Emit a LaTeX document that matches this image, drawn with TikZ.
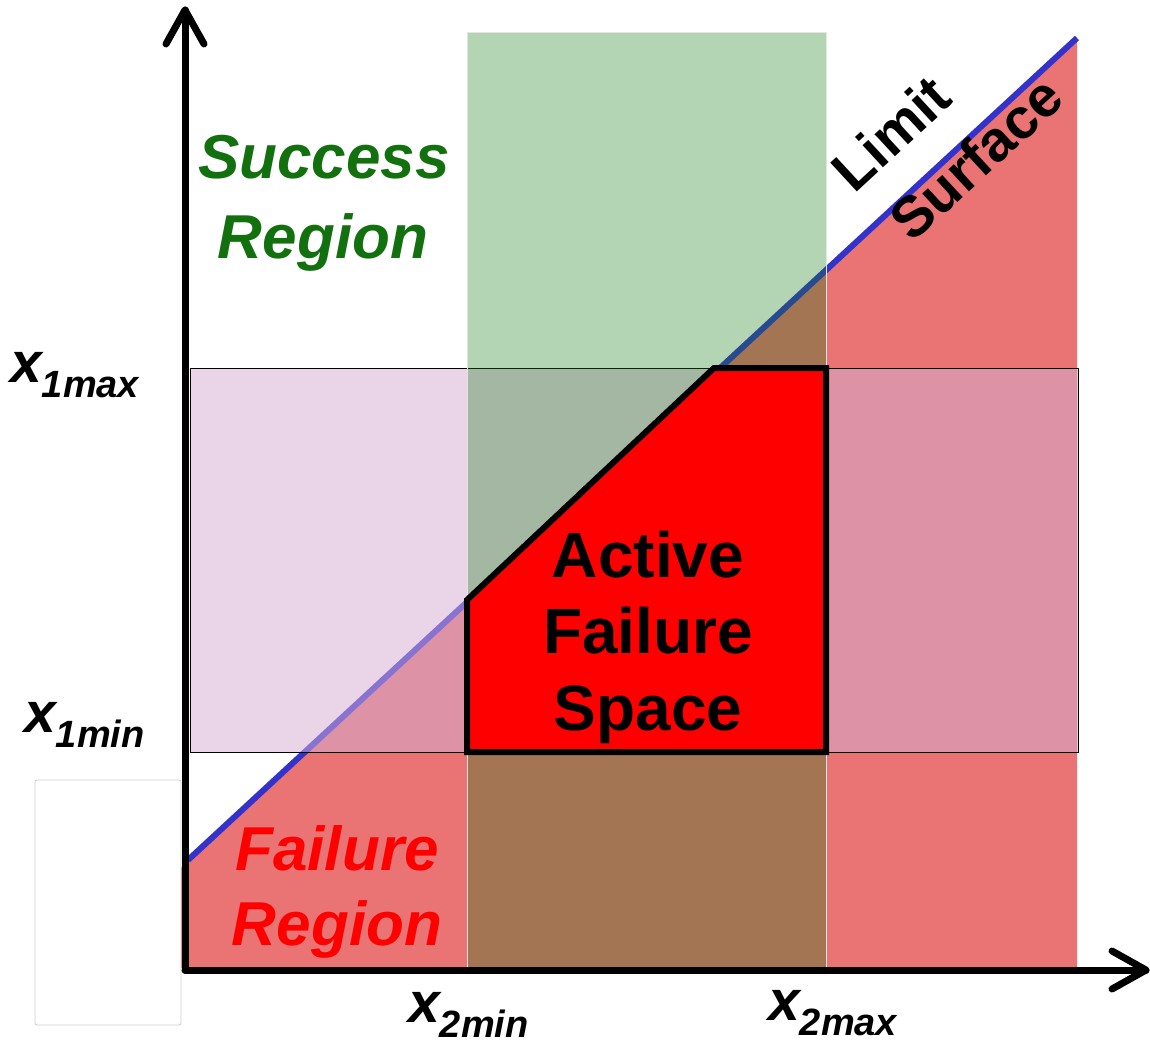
\documentclass[tikz,border=0pt]{standalone}
\usepackage{fontspec}
\setmainfont{Liberation Sans}
\definecolor{failred}{RGB}{234,115,115}
\definecolor{bandpurple}{RGB}{213,174,212}
\definecolor{colgreen}{RGB}{18,124,18}
\definecolor{limitblue}{RGB}{51,51,204}
\definecolor{succgreen}{RGB}{18,112,14}
\definecolor{pure}{RGB}{255,0,0}
\tikzset{
  axisline/.style={line width=7pt, line cap=round, line join=round, black},
  bigtxt/.style={inner sep=0pt, anchor=base, font=\fontsize{62}{70}\selectfont\bfseries\itshape},
  activetxt/.style={inner sep=0pt, anchor=base, font=\fontsize{64}{70}\selectfont\bfseries},
  limtxt/.style={inner sep=0pt, rotate=42.7, font=\fontsize{57}{60}\selectfont\bfseries},
  varlab/.style={inner sep=0pt, anchor=base west},
}
\newcommand{\varx}[1]{{\fontsize{57}{60}\selectfont\bfseries\itshape x}{\fontsize{38}{40}\selectfont\bfseries\itshape\raisebox{-15pt}{#1}}}
\begin{document}
\begin{tikzpicture}[x=1pt,y=-1pt]
\useasboundingbox (0,0) rectangle (1150,1044);
% failure region
\fill[failred] (181,868) -- (188,860) -- (1077,38) -- (1077,968) -- (181,968) -- cycle;
% limit surface line
\draw[limitblue, line width=6pt] (188,860) coordinate (ls0) -- (1077,38) coordinate (ls1);
% horizontal band
\fill[bandpurple, opacity=0.53] (190,368) rectangle (1078,752);
\draw[black, line width=1pt] (190,368) rectangle (1078,752);
% vertical column
\fill[colgreen, opacity=0.32] (467,32) rectangle (826,968);
\draw[white!80!gray, line width=1pt] (467,32) rectangle (826,968);
% active failure space
\draw[black, fill=pure, line width=6pt, line join=miter] (467,752) -- (467,600) -- (714,368) -- (826,368) -- (826,752) -- cycle;
% empty box
\draw[black!20, line width=0.8pt, rounded corners=2pt] (35,780) rectangle (181,1025);
% axes
\coordinate (O) at (185,970);
\coordinate (ytip) at (185,10);
\coordinate (xtip) at (1146,970);
\draw[axisline] (O) -- (ytip);
\draw[axisline] (166,44) -- (ytip) -- (204,44);
\draw[axisline] (O) -- (xtip);
\draw[axisline] (1112,951) -- (xtip) -- (1112,989);
% labels
\node[bigtxt, text=succgreen] (sr1) at (324,178) {Success};
\node[bigtxt, text=succgreen] (sr2) at (323,258) {Region};
\node[bigtxt, text=pure] (fr1) at (337,870) {Failure};
\node[bigtxt, text=pure] (fr2) at (337,945) {Region};
\node[activetxt] (af1) at (648,577) {Active};
\node[activetxt] (af2) at (648,653) {Failure};
\node[activetxt] (af3) at (648,730) {Space};
\node[limtxt] (lim) at (891,133) {Limit};
\node[limtxt] (sur) at (976,158) {Surface};
\node[varlab] (x1max) at (10,382) {\varx{1max}};
\node[varlab] (x1min) at (24,732) {\varx{1min}};
\node[varlab] (x2min) at (408,1022) {\varx{2min}};
\node[varlab] (x2max) at (768,1020) {\varx{2max}};
\end{tikzpicture}
\end{document}
